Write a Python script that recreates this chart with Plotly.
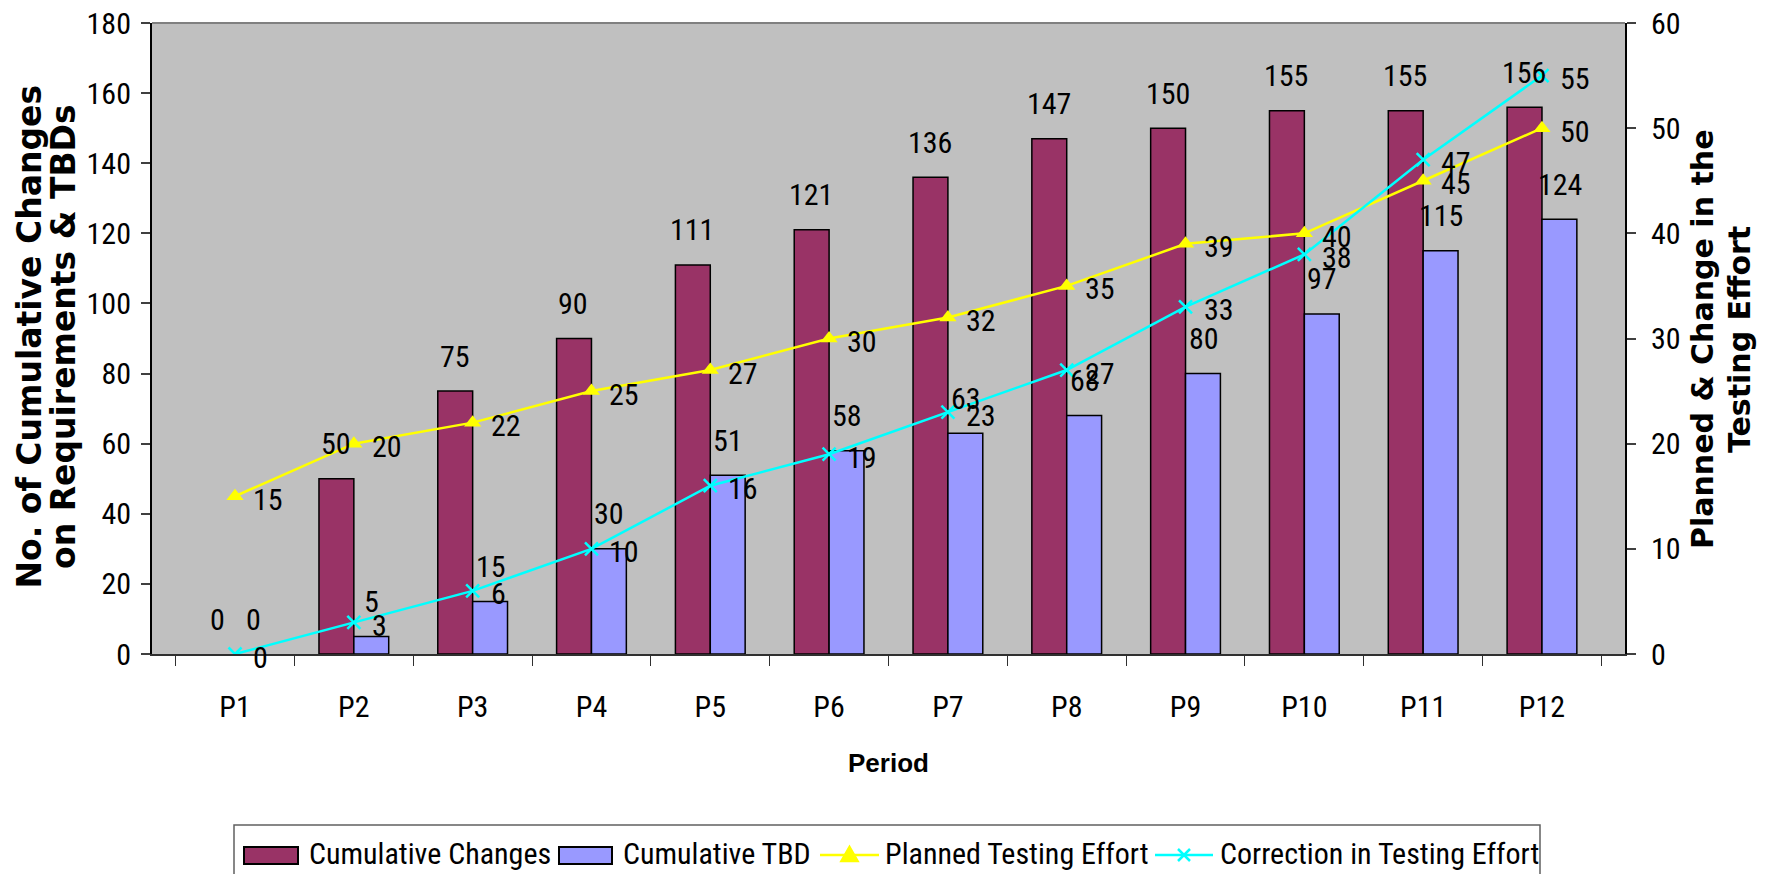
import plotly.graph_objects as go

# Periods and series values
periods = ["P1", "P2", "P3", "P4", "P5", "P6", "P7", "P8", "P9", "P10", "P11", "P12"]
cumulative_changes = [0, 50, 75, 90, 111, 121, 136, 147, 150, 155, 155, 156]
cumulative_tbd = [0, 5, 15, 30, 51, 58, 63, 68, 80, 97, 115, 124]
planned_effort = [15, 20, 22, 25, 27, 30, 32, 35, 39, 40, 45, 50]
correction_effort = [0, 3, 6, 10, 16, 19, 23, 27, 33, 38, 47, 55]

left_ticks = list(range(0, 181, 20))
right_ticks = list(range(0, 61, 10))

NARROW = "Liberation Sans Narrow, Arial Narrow, Roboto Condensed, DejaVu Sans Condensed, sans-serif"
BOLD_WIDE = "DejaVu Sans, Verdana, sans-serif"

MAROON, LAVENDER, YELLOW, CYAN = "#993366", "#9999FF", "#FFFF00", "#00FFFF"

W, H = 1770, 874
ML, MR, MT, MB = 152, 145, 23, 220
PW, PH = W - ML - MR, H - MT - MB


def px_x(p):
    return (p - ML) / PW


def px_y(p):
    return (H - MB - p) / PH


def outline_widths(values):
    # empty bars get no outline so nothing is drawn on the baseline
    return [0 if v == 0 else 1.5 for v in values]


fig = go.Figure()

fig.add_trace(go.Bar(
    x=periods, y=cumulative_changes, name="Cumulative Changes",
    marker=dict(color=MAROON,
                line=dict(color="black", width=outline_widths(cumulative_changes))),
))
fig.add_trace(go.Bar(
    x=periods, y=cumulative_tbd, name="Cumulative TBD",
    marker=dict(color=LAVENDER,
                line=dict(color="black", width=outline_widths(cumulative_tbd))),
))
fig.add_trace(go.Scatter(
    x=periods, y=planned_effort, name="Planned Testing Effort", yaxis="y2",
    mode="lines+markers",
    line=dict(color=YELLOW, width=2.5),
    marker=dict(symbol="triangle-up", size=15, color=YELLOW),
))
fig.add_trace(go.Scatter(
    x=periods, y=correction_effort, name="Correction in Testing Effort", yaxis="y2",
    mode="lines+markers",
    line=dict(color=CYAN, width=2.5),
    marker=dict(symbol="x-thin", size=13, color=CYAN,
                line=dict(color=CYAN, width=2.5)),
))

annotations = []
shapes = []
label_font = dict(family=NARROW, size=30, color="black")

# value labels above each bar
for series, dx in ((cumulative_changes, -18), (cumulative_tbd, 18)):
    for p, v in zip(periods, series):
        annotations.append(dict(
            x=p, y=v, xref="x", yref="y", text=str(v), showarrow=False,
            xshift=dx, yshift=35, xanchor="center", yanchor="middle",
            font=label_font,
        ))

# value labels to the right of each line point
for series in (planned_effort, correction_effort):
    for p, v in zip(periods, series):
        annotations.append(dict(
            x=p, y=v, xref="x", yref="y2", text=str(v), showarrow=False,
            xshift=16, yshift=-3, xanchor="left", yanchor="middle",
            font=label_font,
        ))

# axis titles
for text, xp in (("No. of Cumulative Changes", 28.5), ("on Requirements & TBDs", 63)):
    annotations.append(dict(
        x=px_x(xp), y=px_y(337), xref="paper", yref="paper", text=text,
        showarrow=False, textangle=-90, xanchor="center", yanchor="middle",
        font=dict(family=BOLD_WIDE, size=33, color="black", weight="bold"),
    ))
for text, xp in (("Planned & Change in the", 1703), ("Testing Effort", 1740)):
    annotations.append(dict(
        x=px_x(xp), y=px_y(340), xref="paper", yref="paper", text=text,
        showarrow=False, textangle=-90, xanchor="center", yanchor="middle",
        font=dict(family=BOLD_WIDE, size=30, color="black", weight="bold"),
    ))
annotations.append(dict(
    x=px_x(888), y=px_y(763), xref="paper", yref="paper", text="Period",
    showarrow=False, xanchor="center", yanchor="middle",
    font=dict(family="Liberation Sans, Arial, sans-serif", size=26,
              color="black", weight="bold"),
))

# top border of the plot area
shapes.append(dict(
    type="line", xref="paper", yref="paper", x0=0, x1=1, y0=1, y1=1,
    line=dict(color="#808080", width=2),
))

# legend box below the chart
LEG_Y = 855
shapes.append(dict(
    type="rect", xref="paper", yref="paper",
    x0=px_x(234), x1=px_x(1540), y0=px_y(825), y1=px_y(890),
    fillcolor="white", line=dict(color="#606060", width=1.5), layer="above",
))
for (x0, x1), color in (((244, 298), MAROON), ((559, 612), LAVENDER)):
    shapes.append(dict(
        type="rect", xref="paper", yref="paper",
        x0=px_x(x0), x1=px_x(x1), y0=px_y(864), y1=px_y(847),
        fillcolor=color, line=dict(color="black", width=2), layer="above",
    ))
for (x0, x1), color, glyph in (((820, 879), YELLOW, "M-8,-6 L8,-6 L0,8 Z"),
                               ((1155, 1213), CYAN, "M-6,-6 L6,6 M-6,6 L6,-6")):
    shapes.append(dict(
        type="line", xref="paper", yref="paper",
        x0=px_x(x0), x1=px_x(x1), y0=px_y(LEG_Y), y1=px_y(LEG_Y),
        line=dict(color=color, width=2.5), layer="above",
    ))
    shapes.append(dict(
        type="path", xref="paper", yref="paper",
        xsizemode="pixel", ysizemode="pixel",
        xanchor=px_x((x0 + x1) / 2), yanchor=px_y(LEG_Y),
        path=glyph, fillcolor=color if glyph.endswith("Z") else None,
        line=dict(color=color, width=2.5), layer="above",
    ))
for text, xp in (("Cumulative Changes", 307), ("Cumulative TBD", 621),
                 ("Planned Testing Effort", 883), ("Correction in Testing Effort", 1218)):
    annotations.append(dict(
        x=px_x(xp), y=px_y(LEG_Y - 2), xref="paper", yref="paper", text=text,
        showarrow=False, xanchor="left", yanchor="middle",
        font=dict(family=NARROW, size=30, color="black"),
    ))

fig.update_layout(
    width=W, height=H,
    margin=dict(l=ML, r=MR, t=MT, b=MB, autoexpand=False),
    paper_bgcolor="white",
    plot_bgcolor="#C0C0C0",
    barmode="group",
    bargap=0.413,
    bargroupgap=0,
    showlegend=False,
    font=dict(family=NARROW, size=30, color="black"),
    xaxis=dict(
        type="category", categoryarray=periods,
        showline=True, linecolor="#303030", linewidth=2,
        ticks="outside", ticklen=10, tickwidth=1, tickcolor="#303030",
        tickson="boundaries",
        showgrid=False, zeroline=False,
        tickfont=dict(family=NARROW, size=30),
        ticklabelstandoff=25,
    ),
    yaxis=dict(
        range=[0, 180], tickvals=left_ticks,
        showline=True, linecolor="black", linewidth=2,
        ticks="outside", ticklen=9, tickwidth=1.5, tickcolor="#404040",
        showgrid=False, zeroline=False,
        tickfont=dict(family=NARROW, size=30),
        ticklabelstandoff=4,
    ),
    yaxis2=dict(
        range=[0, 60], tickvals=right_ticks, overlaying="y", side="right",
        showline=True, linecolor="black", linewidth=2,
        ticks="outside", ticklen=9, tickwidth=1.5, tickcolor="#404040",
        showgrid=False, zeroline=False,
        tickfont=dict(family=NARROW, size=30),
        ticklabelstandoff=9,
    ),
    annotations=annotations,
    shapes=shapes,
)

fig.write_html("out.html")
